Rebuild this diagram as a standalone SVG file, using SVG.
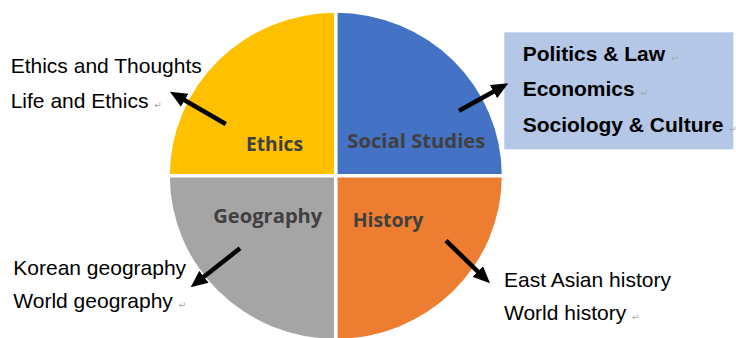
<svg xmlns="http://www.w3.org/2000/svg" width="736" height="338" viewBox="0 0 736 338">
  <style>
    .lbl { font-family: "Open Sans", "Noto Sans", sans-serif; font-weight: bold; font-size: 20px; fill: #404040; }
    .item { font-family: "Liberation Sans", Arial, sans-serif; font-size: 21px; fill: #000; }
    .itemb { font-family: "Liberation Sans", Arial, sans-serif; font-size: 21px; font-weight: bold; fill: #000; }
    .pm { font-family: "DejaVu Sans", sans-serif; font-size: 9px; font-weight: normal; fill: #a6a6a6; }
    .arrow { stroke: #000; stroke-width: 4.5; fill: none; marker-end: url(#head); }
  </style>
  <defs>
    <marker id="head" viewBox="0 0 17 15" refX="7" refY="7.5" markerWidth="17" markerHeight="15" markerUnits="userSpaceOnUse" orient="auto">
      <path d="M0,0 L17,7.5 L0,15 Z" fill="#000"/>
    </marker>
  </defs>
  <rect width="736" height="338" fill="#fff"/>

  <!-- circle quadrants -->
  <g id="ethics">
    <path d="M335.8,175.8 L335.8,12.8 A166,163 0 0 0 169.8,175.8 Z" fill="#FFC000"/>
    <text class="lbl" x="246" y="150.5" textLength="57" lengthAdjust="spacingAndGlyphs">Ethics</text>
  </g>
  <g id="social-studies">
    <path d="M335.8,175.8 L335.8,12.8 A166,163 0 0 1 501.8,175.8 Z" fill="#4472C4"/>
    <text class="lbl" x="347.3" y="147.7" textLength="138" lengthAdjust="spacingAndGlyphs">Social Studies</text>
  </g>
  <g id="geography">
    <path d="M335.8,175.8 L169.8,175.8 A166,163 0 0 0 335.8,338.8 Z" fill="#A5A5A5"/>
    <text class="lbl" x="213.3" y="222.7" textLength="109" lengthAdjust="spacingAndGlyphs">Geography</text>
  </g>
  <g id="history">
    <path d="M335.8,175.8 L501.8,175.8 A166,163 0 0 1 335.8,338.8 Z" fill="#ED7D31"/>
    <text class="lbl" x="352.7" y="226.7" textLength="70.6" lengthAdjust="spacingAndGlyphs">History</text>
  </g>
  <!-- white separators between quadrants -->
  <g id="separators" stroke="#fff" stroke-width="3.6">
    <line x1="335.8" y1="0" x2="335.8" y2="338"/>
    <line x1="160" y1="175.8" x2="503" y2="175.8"/>
  </g>

  <!-- subject lists -->
  <g id="ethics-list">
    <text class="item" x="10.7" y="73.3">Ethics and Thoughts</text>
    <text class="item" x="10.7" y="108.3">Life and Ethics <tspan class="pm">↵</tspan></text>
  </g>
  <g id="social-list">
    <rect x="504.3" y="32.3" width="229" height="117" fill="#B4C7E7"/>
    <text class="itemb" x="522.7" y="60.7">Politics &amp; Law <tspan class="pm">↵</tspan></text>
    <text class="itemb" x="522.7" y="96.2">Economics <tspan class="pm">↵</tspan></text>
    <text class="itemb" x="522.7" y="131.7">Sociology &amp; Culture <tspan class="pm">↵</tspan></text>
  </g>
  <g id="geography-list">
    <text class="item" x="13.3" y="275">Korean geography</text>
    <text class="item" x="13.3" y="308.3">World geography <tspan class="pm">↵</tspan></text>
  </g>
  <g id="history-list">
    <text class="item" x="504" y="286.7">East Asian history</text>
    <text class="item" x="504" y="320">World history <tspan class="pm">↵</tspan></text>
  </g>

  <!-- connectors -->
  <g id="connectors">
    <line class="arrow" x1="225.7" y1="124" x2="178.6" y2="96.7"/>
    <line class="arrow" x1="459" y1="110.7" x2="499.6" y2="88.2"/>
    <line class="arrow" x1="240" y1="248.3" x2="198.5" y2="281.1"/>
    <line class="arrow" x1="446" y1="240.7" x2="482.8" y2="276.3"/>
  </g>
</svg>
